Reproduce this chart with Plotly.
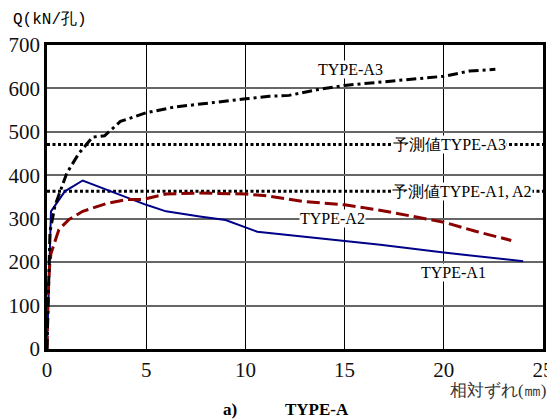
import plotly.graph_objects as go

# TYPE-A1 (blue solid)
a1_x = [0, 0.1, 0.2, 0.9, 1.8, 5.0, 6.0, 7.7, 9.0, 10.6, 16.8, 20.0, 24.0]
a1_y = [0, 150, 317, 363, 388, 332, 317, 305, 297, 270, 240, 222, 202]

# TYPE-A2 (dark red dashed)
a2_x = [0, 0.05, 0.13, 0.2, 0.6, 1.1, 1.8, 3.0, 4.0, 4.8, 6.0, 7.7, 10.0, 11.2, 12.9, 15.0, 16.6, 20.0, 21.6, 23.4]
a2_y = [0, 120, 190, 220, 275, 298, 317, 335, 344, 344, 357, 359, 357, 352, 340, 332, 321, 292, 271, 250]

# TYPE-A3 (black dash-dot)
a3_x = [0, 0.1, 0.15, 0.4, 1.0, 1.6, 2.3, 2.9, 3.7, 5.0, 6.4, 10.0, 11.2, 12.2, 13.6, 15.0, 18.3, 20.0, 21.3, 22.6]
a3_y = [0, 200, 270, 330, 405, 450, 488, 491, 524, 544, 557, 576, 582, 584, 597, 607, 620, 628, 640, 644]

# predicted values
pred_a3 = 471
pred_a12 = 363
pred_x = [0, 25]

x_ticks = [0, 5, 10, 15, 20, 25]
y_ticks = [0, 100, 200, 300, 400, 500, 600, 700]

SERIF = "Times New Roman, Liberation Serif, DejaVu Serif, serif"

fig = go.Figure()
fig.add_trace(go.Scatter(x=pred_x, y=[pred_a3, pred_a3], mode="lines",
                         line=dict(color="black", width=3, dash="3px,2.5px"), hoverinfo="skip"))
fig.add_trace(go.Scatter(x=pred_x, y=[pred_a12, pred_a12], mode="lines",
                         line=dict(color="black", width=3, dash="3px,2.5px"), hoverinfo="skip"))
fig.add_trace(go.Scatter(x=a1_x, y=a1_y, mode="lines",
                         line=dict(color="#000088", width=2)))
fig.add_trace(go.Scatter(x=a2_x, y=a2_y, mode="lines",
                         line=dict(color="#8b0000", width=3, dash="13px,5px")))
fig.add_trace(go.Scatter(x=a3_x, y=a3_y, mode="lines",
                         line=dict(color="black", width=3, dash="10px,4px,3px,4px")))

lab_font = dict(family=SERIF, size=16, color="black")
labels = [
    (15.3, 643, "TYPE-A3"),
    (20.3, 471, "予測値TYPE-A3"),
    (20.9, 363, "予測値TYPE-A1, A2"),
    (14.4, 300, "TYPE-A2"),
    (20.5, 176, "TYPE-A1"),
]
for lx, ly, t in labels:
    fig.add_annotation(x=lx, y=ly, text=t, showarrow=False, font=lab_font,
                       bgcolor="white", borderpad=0)

# axis titles and caption
fig.add_annotation(xref="paper", yref="paper", x=-0.072, y=1.045, xanchor="left", yanchor="bottom",
                   text="Q(kN/孔)", showarrow=False,
                   font=dict(family="Liberation Mono, DejaVu Sans Mono, monospace", size=16, color="black"))
fig.add_annotation(xref="paper", yref="paper", x=1.01, y=-0.135, xanchor="right", yanchor="middle",
                   text="相対ずれ(㎜)", showarrow=False,
                   font=dict(family=SERIF, size=17, color="#333"))
fig.add_annotation(xref="paper", yref="paper", x=(221 - 47) / 496, y=-0.2, xanchor="left", yanchor="middle",
                   text="<b>a)</b>", showarrow=False,
                   font=dict(family=SERIF, size=17, color="black"))
fig.add_annotation(xref="paper", yref="paper", x=(283 - 47) / 496, y=-0.2, xanchor="left", yanchor="middle",
                   text="<b>TYPE-A</b>", showarrow=False,
                   font=dict(family=SERIF, size=17, color="black"))

# page body has an 8px default margin, so the figure is sized to fit the 555x420 window
fig.update_layout(
    width=547, height=412,
    margin=dict(l=39, r=12, t=37, b=71),
    paper_bgcolor="white", plot_bgcolor="white",
    showlegend=False,
    font=dict(family=SERIF, size=21, color="#111"),
)
fig.update_xaxes(range=[0, 25], tickvals=x_ticks, ticks="", showgrid=True, automargin=False,
                 gridcolor="black", gridwidth=1, zeroline=False,
                 showline=True, linecolor="black", linewidth=2.5, mirror=True)
fig.update_yaxes(range=[0, 700], tickvals=y_ticks, ticks="", showgrid=True, automargin=False,
                 gridcolor="#666", gridwidth=1.5, zeroline=False,
                 showline=True, linecolor="black", linewidth=2.5, mirror=True)

fig.write_html("out.html")
